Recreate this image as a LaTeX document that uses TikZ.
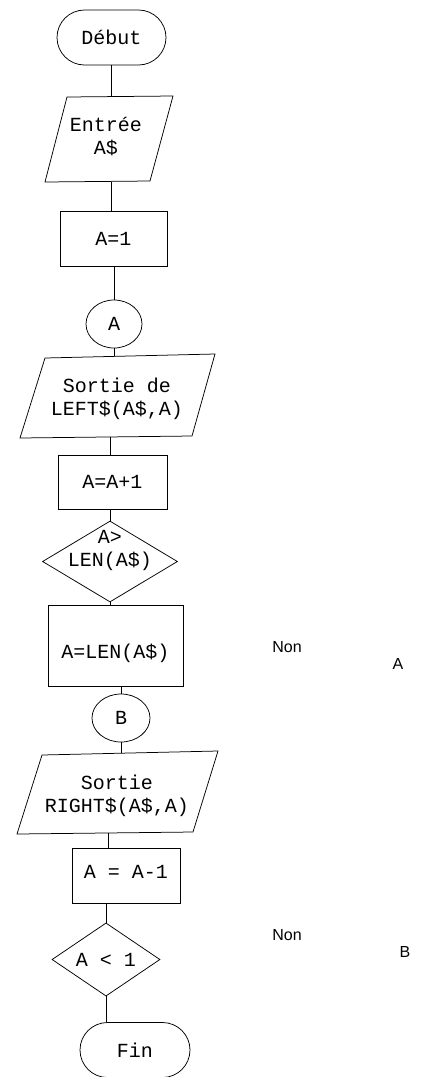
\documentclass[tikz,border=0pt]{standalone}
\usepackage{fontspec}
\setmainfont{Liberation Sans}
\newfontfamily\dotfont{Liberation Mono}
\usetikzlibrary{shapes.geometric,shapes.misc}
\begin{document}
\begin{tikzpicture}[x=1pt,y=-1pt,line width=0.75pt,
  txt/.style={font=\dotfont\fontsize{20}{23}\selectfont,align=center,inner sep=0pt},
  termbox/.style={rounded rectangle,draw,txt,minimum width=109pt,minimum height=55pt},
  procbox/.style={rectangle,draw,txt},
  connbox/.style={ellipse,draw,txt},
  decbox/.style={diamond,draw,txt},
  lbl/.style={font=\fontsize{16}{18}\selectfont,inner sep=0pt},
  link/.style={line width=0.75pt}]
\useasboundingbox (0,0) rectangle (423,1077);

% Début
\node[termbox] (debut) at (111.5,37.5) {Début};

% Entrée parallelogram
\coordinate (e1) at (67,97); \coordinate (e2) at (173,96);
\coordinate (e3) at (150,181); \coordinate (e4) at (45,182);
\draw (e1) -- (e2) -- (e3) -- (e4) -- cycle;
\node[txt] (entree) at (106,137) {Entrée\\A\$};
\coordinate (entreeT) at (111,96.5);
\coordinate (entreeB) at (111,181.5);

% A=1
\node[procbox,minimum width=107pt,minimum height=55pt] (a1) at (113.5,238.5) {A=1};

% connector A
\node[connbox,minimum width=56pt,minimum height=48pt] (ca) at (114,324) {A};

% Sortie de LEFT
\coordinate (s1) at (45,358); \coordinate (s2) at (215,354);
\coordinate (s3) at (192,436); \coordinate (s4) at (20,438);
\draw (s1) -- (s2) -- (s3) -- (s4) -- cycle;
\node[txt] (sortie1) at (117,399) {Sortie de\\LEFT\$(A\$,A)};
\coordinate (sortie1T) at (114,356);
\coordinate (sortie1B) at (110,437);

% A=A+1
\node[procbox,minimum width=109pt,minimum height=54pt] (ainc) at (112.5,482) {A=A+1};

% Decision 1
\node[decbox,minimum width=135pt,minimum height=81pt] (d1) at (110,561.5) {};
\node[txt] (d1t) at (110,550) {A>\\LEN(A\$)};

% A=LEN(A$)
\node[procbox,minimum width=135pt,minimum height=81pt] (alen) at (115.5,645.5) {};
\node[txt] (alent) at (115.5,653) {A=LEN(A\$)};

% connector B
\node[connbox,minimum width=58pt,minimum height=48pt] (cb) at (121,718) {B};

% Sortie RIGHT
\coordinate (r1) at (42,755); \coordinate (r2) at (218,751);
\coordinate (r3) at (193,832); \coordinate (r4) at (17,834);
\draw (r1) -- (r2) -- (r3) -- (r4) -- cycle;
\node[txt] (sortie2) at (117,796) {Sortie\\RIGHT\$(A\$,A)};
\coordinate (sortie2T) at (110,753);
\coordinate (sortie2B) at (108,833);

% A = A-1
\node[procbox,minimum width=108pt,minimum height=55pt] (adec) at (126,875.5) {};
\node[txt] (adect) at (126,872) {A = A-1};

% Decision 2
\node[decbox,minimum width=108pt,minimum height=55pt] (d2) at (106,959.5) {A < 1};

% Fin
\node[termbox,minimum width=110pt,minimum height=55pt] (fin) at (135,1050) {Fin};

% connectors
\draw[link] (debut.south) -- (debut.south |- entreeT);
\draw[link] (entreeB) -- (entreeB |- a1.north);
\draw[link] (a1.south -| ca.north) -- (ca.north);
\draw[link] (ca.south) -- (sortie1T);
\draw[link] (sortie1B) -- (sortie1B |- ainc.north);
\draw[link] (ainc.south -| d1.north) -- (d1.north);
\draw[link] (d1.south) -- (d1.south |- alen.north);
\draw[link] (alen.south -| cb.north) -- (cb.north);
\draw[link] (cb.south) -- (cb.south |- sortie2T);
\draw[link] (sortie2B) -- (sortie2B |- adec.north);
\draw[link] (adec.south -| d2.north) -- (d2.north);
\draw[link] (d2.south) -- (d2.south |- fin.north);

% labels
\node[lbl] (non1) at (287,647) {Non};
\node[lbl] (la) at (398,664) {A};
\node[lbl] (non2) at (287,935) {Non};
\node[lbl] (lb) at (405,952) {B};
\end{tikzpicture}
\end{document}
